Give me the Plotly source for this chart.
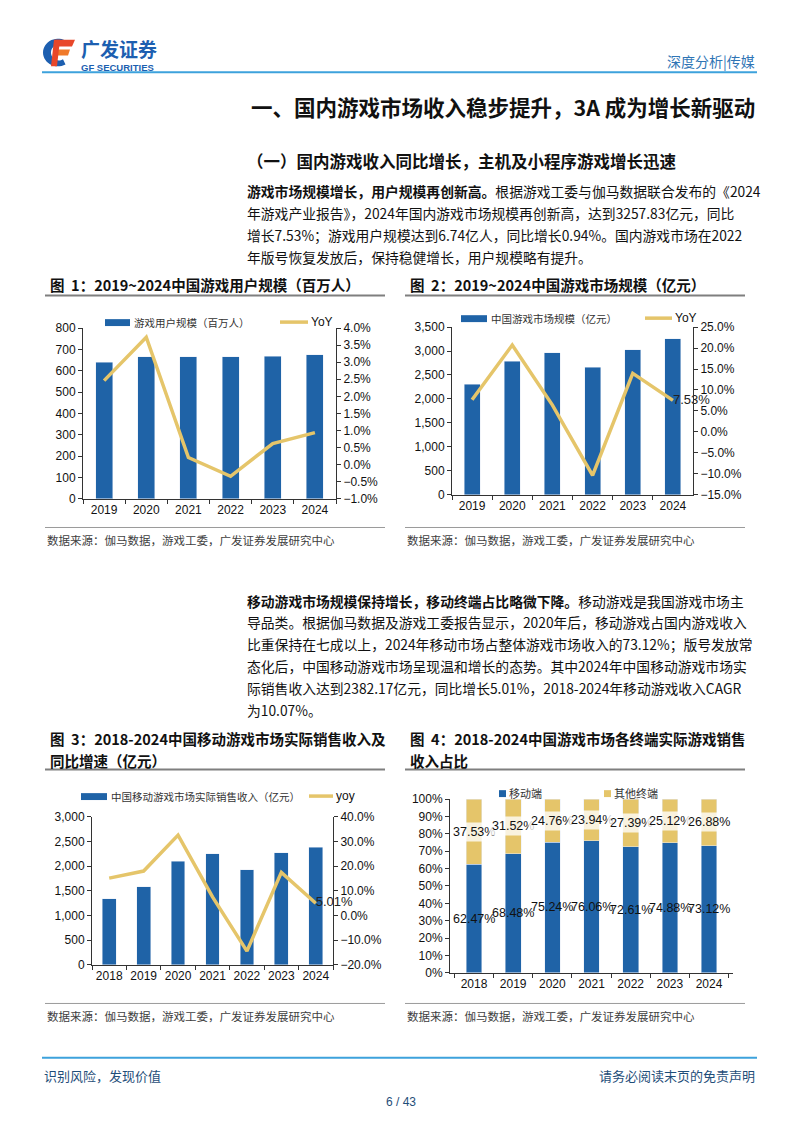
import math
import plotly.graph_objects as go

# ---------------- data ----------------
years_a = ["2019", "2020", "2021", "2022", "2023", "2024"]
users = [640.1, 665.4, 666.4, 664.6, 668.4, 674.0]
users_yoy = [2.46, 3.73, 0.21, -0.34, 0.62, 0.94]

market = [2308.8, 2786.87, 2965.13, 2658.84, 3029.64, 3257.83]
market_yoy = [7.66, 20.71, 6.40, -10.33, 13.95, 7.53]

years_b = ["2018", "2019", "2020", "2021", "2022", "2023", "2024"]
mobile_rev = [1339.56, 1581.10, 2096.76, 2255.38, 1930.58, 2268.60, 2382.17]
mobile_yoy = [15.18, 18.03, 32.61, 7.57, -14.40, 17.51, 5.01]

share_mobile = [62.47, 68.48, 75.24, 76.06, 72.61, 74.88, 73.12]
share_other = [37.53, 31.52, 24.76, 23.94, 27.39, 25.12, 26.88]

# ---------------- helpers ----------------
OFF = 8                      # default body margin of the html page
W, H = 802 - 2 * OFF, 1133 - 2 * OFF
def X(px): return (px - OFF) / W
def Y(py): return 1 - (py - OFF) / H

BLUE = "#1F63A7"
YEL = "#E5C56A"
AX = "#333333"
FONT = "Liberation Sans, Arial, Noto Sans CJK SC, sans-serif"
CJK = "Noto Sans CJK SC, Liberation Sans, sans-serif"

fig = go.Figure()

# chart 1
fig.add_trace(go.Bar(x=years_a, y=users, marker_color=BLUE, xaxis="x", yaxis="y", showlegend=False))
fig.add_trace(go.Scatter(x=years_a, y=users_yoy, mode="lines", line=dict(color=YEL, width=3.5),
                         xaxis="x", yaxis="y2", showlegend=False))
# chart 2
lab2 = [""] * (len(years_a) - 1) + [f"{market_yoy[-1]:.2f}%"]
fig.add_trace(go.Bar(x=years_a, y=market, marker_color=BLUE, xaxis="x2", yaxis="y3", showlegend=False))
fig.add_trace(go.Scatter(x=years_a, y=market_yoy, mode="lines+text", text=lab2, textposition="middle right",
                         textfont=dict(size=13, color="#222", family=FONT), cliponaxis=False,
                         line=dict(color=YEL, width=3.5), xaxis="x2", yaxis="y4", showlegend=False))
# chart 3
lab3 = [""] * (len(years_b) - 1) + [f"{mobile_yoy[-1]:.2f}%"]
fig.add_trace(go.Bar(x=years_b, y=mobile_rev, marker_color=BLUE, xaxis="x3", yaxis="y5", showlegend=False))
fig.add_trace(go.Scatter(x=years_b, y=mobile_yoy, mode="lines+text", text=lab3, textposition="middle right",
                         textfont=dict(size=13, color="#222", family=FONT), cliponaxis=False,
                         line=dict(color=YEL, width=3.5), xaxis="x3", yaxis="y6", showlegend=False))
# chart 4
fig.add_trace(go.Bar(x=years_b, y=share_mobile, marker_color=BLUE, xaxis="x4", yaxis="y7", showlegend=False))
fig.add_trace(go.Bar(x=years_b, y=share_other, marker_color=YEL, xaxis="x4", yaxis="y7", showlegend=False))

def xax(d0, d1, anchor):
    return dict(domain=[X(d0), X(d1)], anchor=anchor, type="category", showline=True, linecolor=AX,
                linewidth=1, ticks="outside", tickson="boundaries", ticklen=4, tickcolor=AX,
                tickangle=0, showgrid=False, tickfont=dict(size=12, color="#111", family=FONT),
                fixedrange=True)

def yax(t, b, anchor, rng, dtick, side="left", fmt=None, suffix=None, overlay=None):
    a = dict(anchor=anchor, range=rng, dtick=dtick, side=side, showline=True, linecolor=AX, linewidth=1,
             ticks="outside", ticklen=4, tickcolor=AX, showgrid=False, zeroline=False,
             tickfont=dict(size=12, color="#111", family=FONT), fixedrange=True)
    if overlay:
        a["overlaying"] = overlay
    else:
        a["domain"] = [Y(b), Y(t)]
    if fmt: a["tickformat"] = fmt
    if suffix: a["ticksuffix"] = suffix
    return a

fig.update_layout(
    width=W, height=H, margin=dict(l=0, r=0, t=0, b=0),
    paper_bgcolor="white", plot_bgcolor="rgba(0,0,0,0)",
    barmode="stack", bargap=0.6, showlegend=False,
    font=dict(family=FONT, color="#111"),
    xaxis=xax(83, 336, "y"),
    yaxis=yax(325, 498, "x", [0, 800], 100),
    yaxis2=yax(325, 498, "x", [-1, 4], 0.5, side="right", fmt=".1f", suffix="%", overlay="y"),
    xaxis2=xax(452, 693, "y3"),
    yaxis3=yax(324, 494, "x2", [0, 3500], 500, fmt=","),
    yaxis4=yax(324, 494, "x2", [-15, 25], 5, side="right", fmt=".1f", suffix="%", overlay="y3"),
    xaxis3=xax(92, 333, "y5"),
    yaxis5=yax(820, 970, "x3", [0, 3000], 500, fmt=","),
    yaxis6=yax(820, 970, "x3", [-20, 40], 10, side="right", fmt=".1f", suffix="%", overlay="y5"),
    xaxis4=xax(450, 733, "y7"),
    yaxis7=yax(802, 978, "x4", [0, 100], 10, suffix="%"),
)

ann = []
shapes = []

def text(px, py, s, size=14, color="#111", anchor="left", family=CJK):
    ann.append(dict(x=X(px), y=Y(py), xref="paper", yref="paper", text=s, showarrow=False,
                    xanchor=anchor, yanchor="middle", font=dict(size=size, color=color, family=family)))

def hline(x0, x1, py, color, width):
    shapes.append(dict(type="line", xref="paper", yref="paper", x0=X(x0), x1=X(x1), y0=Y(py), y1=Y(py),
                       line=dict(color=color, width=width)))

def rect(x0, y0, x1, y1, color):
    shapes.append(dict(type="rect", xref="paper", yref="paper", x0=X(x0), x1=X(x1), y0=Y(y0), y1=Y(y1),
                       fillcolor=color, line=dict(width=0)))

def path(pts, color):
    d = "M " + " L ".join(f"{X(a):.5f},{Y(b):.5f}" for a, b in pts) + " Z"
    shapes.append(dict(type="path", xref="paper", yref="paper", path=d, fillcolor=color, line=dict(width=0)))

# ---- header / logo ----
outer = [(58 + 15 * math.cos(math.radians(a)), 46 - 14 * math.sin(math.radians(a))) for a in range(60, 305, 8)]
inner = [(59 + 8 * math.cos(math.radians(a)), 46 - 8 * math.sin(math.radians(a))) for a in range(300, 60, -8)]
path(outer + inner, "#1D5FB0")
path([(55, 33), (75, 33), (72, 40), (54, 40)], "#E8472A")
path([(55, 43), (70, 43), (68, 49), (54, 49)], "#F07A2A")
path([(54, 33), (60, 33), (57, 60), (51, 60)], "#E8472A")
text(79, 42, "<b>广发证券</b>", size=19, color="#1D5FB0")
text(79, 61, "<b>GF SECURITIES</b>", size=9.5, color="#1D5FB0", family=FONT)
text(757, 55, "深度分析|传媒", size=14, color="#2F75B5", anchor="right")
hline(42, 757, 66, "#3DA2DC", 2)

text(757, 101, "<b>一、国内游戏市场收入稳步提升，3A 成为增长新驱动</b>", size=21.5, anchor="right")
text(245, 156, "<b>（一）国内游戏收入同比增长，主机及小程序游戏增长迅速</b>", size=16.5)

p1 = [
    "<b>游戏市场规模增长，用户规模再创新高。</b>根据游戏工委与伽马数据联合发布的《2024",
    "年游戏产业报告》，2024年国内游戏市场规模再创新高，达到3257.83亿元，同比",
    "增长7.53%；游戏用户规模达到6.74亿人，同比增长0.94%。国内游戏市场在2022",
    "年版号恢复发放后，保持稳健增长，用户规模略有提升。",
]
for i, s in enumerate(p1):
    text(245, 186 + i * 22.3, s, size=13.8)

p2 = [
    "<b>移动游戏市场规模保持增长，移动终端占比略微下降。</b>移动游戏是我国游戏市场主",
    "导品类。根据伽马数据及游戏工委报告显示，2020年后，移动游戏占国内游戏收入",
    "比重保持在七成以上，2024年移动市场占整体游戏市场收入的73.12%；版号发放常",
    "态化后，中国移动游戏市场呈现温和增长的态势。其中2024年中国移动游戏市场实",
    "际销售收入达到2382.17亿元，同比增长5.01%，2018-2024年移动游戏收入CAGR",
    "为10.07%。",
]
for i, s in enumerate(p2):
    text(245, 601 + i * 22.2, s, size=13.8)

# ---- figure titles / sources ----
src = "数据来源：伽马数据，游戏工委，广发证券发展研究中心"
text(48, 281, "<b>图  1：2019~2024中国游戏用户规模（百万人）</b>", size=14.5)
text(408, 281, "<b>图  2：2019~2024中国游戏市场规模（亿元）</b>", size=14.5)
hline(45, 385, 292, "#7f7f7f", 2)
hline(405, 745, 292, "#7f7f7f", 2)
hline(45, 385, 527, "#9a9a9a", 1)
hline(405, 745, 527, "#9a9a9a", 1)
text(45, 540, src, size=11.5, color="#404040")
text(405, 540, src, size=11.5, color="#404040")

text(48, 741, "<b>图  3：2018-2024中国移动游戏市场实际销售收入及</b>", size=14.5)
text(48, 763, "<b>同比增速（亿元）</b>", size=14.5)
text(408, 741, "<b>图  4：2018-2024中国游戏市场各终端实际游戏销售</b>", size=14.5)
text(408, 763, "<b>收入占比</b>", size=14.5)
hline(45, 385, 772, "#7f7f7f", 2)
hline(405, 745, 772, "#7f7f7f", 2)
hline(45, 385, 1009, "#9a9a9a", 1)
hline(405, 745, 1009, "#9a9a9a", 1)
text(45, 1022, src, size=11.5, color="#404040")
text(405, 1022, src, size=11.5, color="#404040")

# ---- legends ----
rect(105, 316, 130, 323, BLUE)
text(132, 319, "游戏用户规模（百万人）", size=10.5, color="#333")
hline(280, 308, 319, YEL, 3.5)
text(309, 319, "YoY", size=12, family=FONT)

rect(461, 312, 487, 319, BLUE)
text(489, 315, "中国游戏市场规模（亿元）", size=10.5, color="#333")
hline(645, 672, 315, YEL, 3.5)
text(673, 315, "YoY", size=12, family=FONT)

rect(81, 796, 107, 803, BLUE)
text(109, 799, "中国移动游戏市场实际销售收入（亿元）", size=10.5, color="#333")
hline(309, 333, 799, YEL, 3.5)
text(334, 799, "yoy", size=12, family=FONT)

rect(499, 793, 506, 800, BLUE)
text(507, 796, "移动端", size=11, color="#333")
rect(604, 793, 611, 800, YEL)
text(612, 796, "其他终端", size=11, color="#333")

# ---- chart 4 data labels (category index positions) ----
for i, (m, o) in enumerate(zip(share_mobile, share_other)):
    ann.append(dict(x=i, y=m / 2, xref="x4", yref="y7", text=f"{m:.2f}%", showarrow=False,
                    font=dict(size=12.5, color="#111", family=FONT)))
    ann.append(dict(x=i, y=m + o / 2, xref="x4", yref="y7", text=f"{o:.2f}%", showarrow=False,
                    bgcolor="rgba(255,255,255,0.78)", borderpad=2,
                    font=dict(size=12.5, color="#111", family=FONT)))

# ---- footer ----
hline(42, 757, 1064, "#3DA2DC", 2)
text(42, 1082, "识别风险，发现价值", size=13, color="#1F4E79")
text(757, 1082, "请务必阅读末页的免责声明", size=13, color="#1F4E79", anchor="right")
text(401, 1109, "6 / 43", size=12, color="#1F4E79", anchor="center", family=FONT)

fig.update_layout(annotations=ann, shapes=shapes)
fig.write_html("out.html")
